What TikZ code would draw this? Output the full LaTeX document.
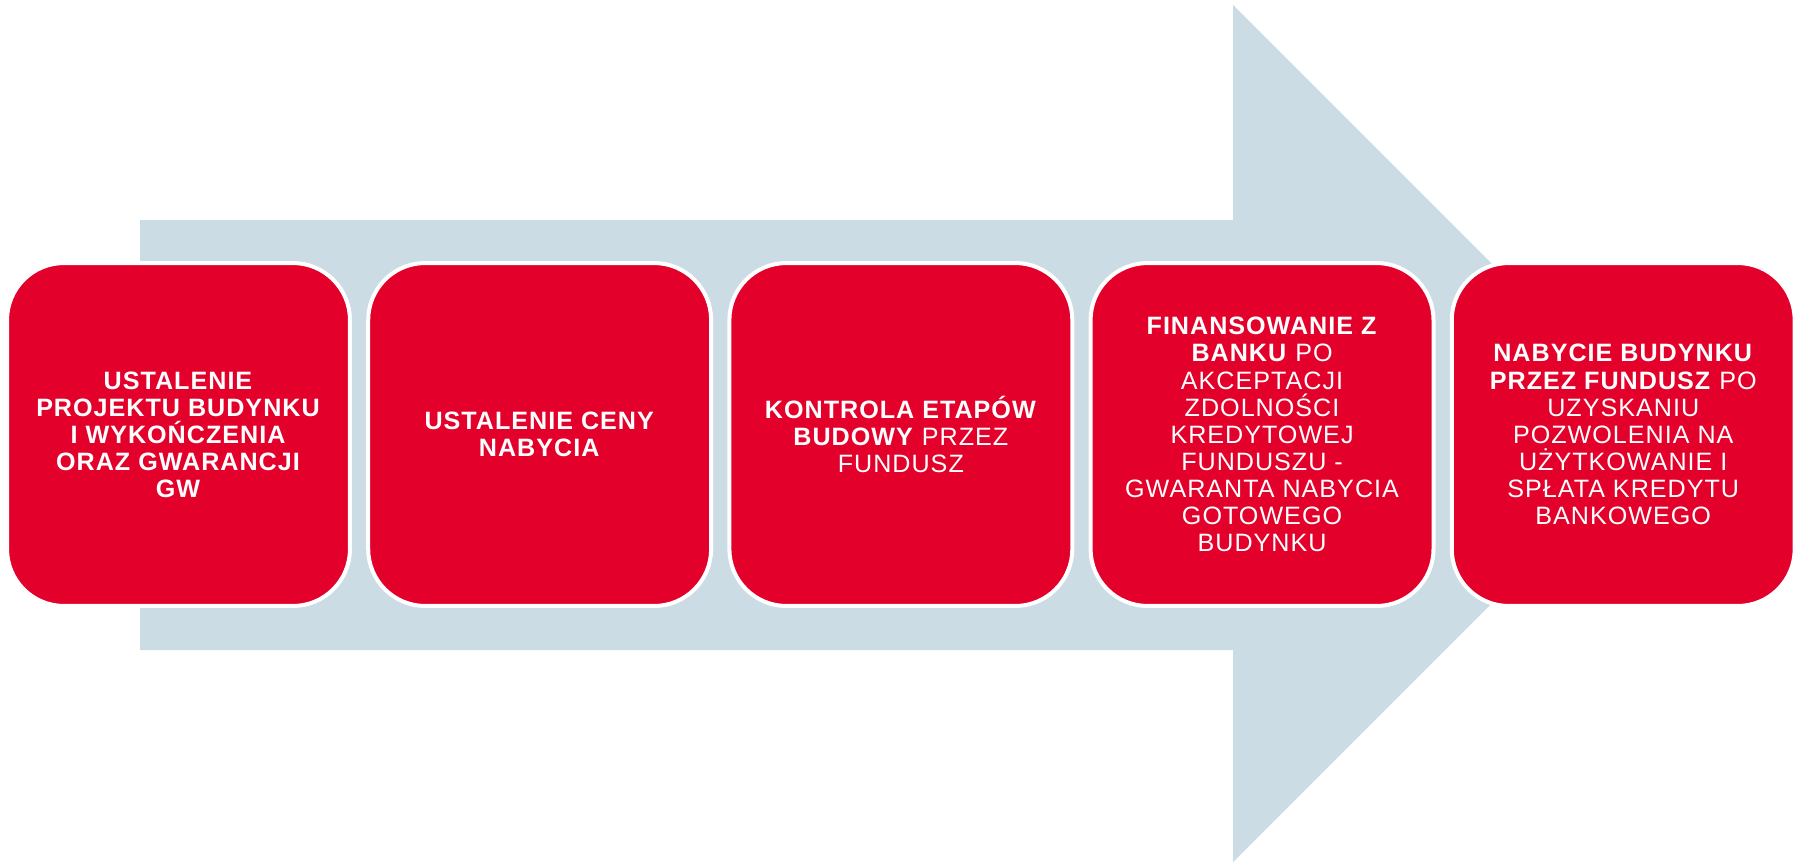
\documentclass[tikz,border=0pt]{standalone}
\usepackage{fontspec}
\setmainfont[LetterSpace=4.0]{Liberation Sans}
\usetikzlibrary{positioning}
\definecolor{arrowgrey}{RGB}{203,220,228}
\definecolor{stepred}{RGB}{227,0,43}
\begin{document}
\begin{tikzpicture}[x=0.02cm, y=-0.02cm,
    stepbox/.style={rectangle, rounded corners=1.14cm, fill=stepred, draw=white,
      line width=0.08cm, minimum width=6.86cm, minimum height=6.86cm, inner sep=0pt,
      text=white, align=center, font=\fontsize{14.3}{15.4}\selectfont},
    node distance=0.285cm]
            \useasboundingbox (0,0) rectangle (1802,863);

            % Arrow
            \fill [arrowgrey] (140,220) -- (1233,220) -- (1233,5) -- (1661.5,433.5)
                -- (1233,862) -- (1233,650) -- (140,650) -- cycle;

            % Steps
            \node [stepbox] (s1) at (178.5,434.5) {\textbf{USTALENIE}\\\textbf{PROJEKTU BUDYNKU}\\\textbf{I WYKOŃCZENIA}\\\textbf{ORAZ GWARANCJI}\\\textbf{GW}};
            \node [stepbox, right=of s1] (s2) {\textbf{USTALENIE CENY}\\\textbf{NABYCIA}};
            \node [stepbox, right=of s2] (s3) {\textbf{KONTROLA ETAPÓW}\\\textbf{BUDOWY} PRZEZ\\FUNDUSZ};
            \node [stepbox, right=of s3] (s4) {\textbf{FINANSOWANIE Z}\\\textbf{BANKU} PO\\AKCEPTACJI\\ZDOLNOŚCI\\KREDYTOWEJ\\FUNDUSZU -\\GWARANTA NABYCIA\\GOTOWEGO\\BUDYNKU};
            \node [stepbox, right=of s4] (s5) {\textbf{NABYCIE BUDYNKU}\\\textbf{PRZEZ FUNDUSZ} PO\\UZYSKANIU\\POZWOLENIA NA\\UŻYTKOWANIE I\\SPŁATA KREDYTU\\BANKOWEGO};
        \end{tikzpicture}
\end{document}
